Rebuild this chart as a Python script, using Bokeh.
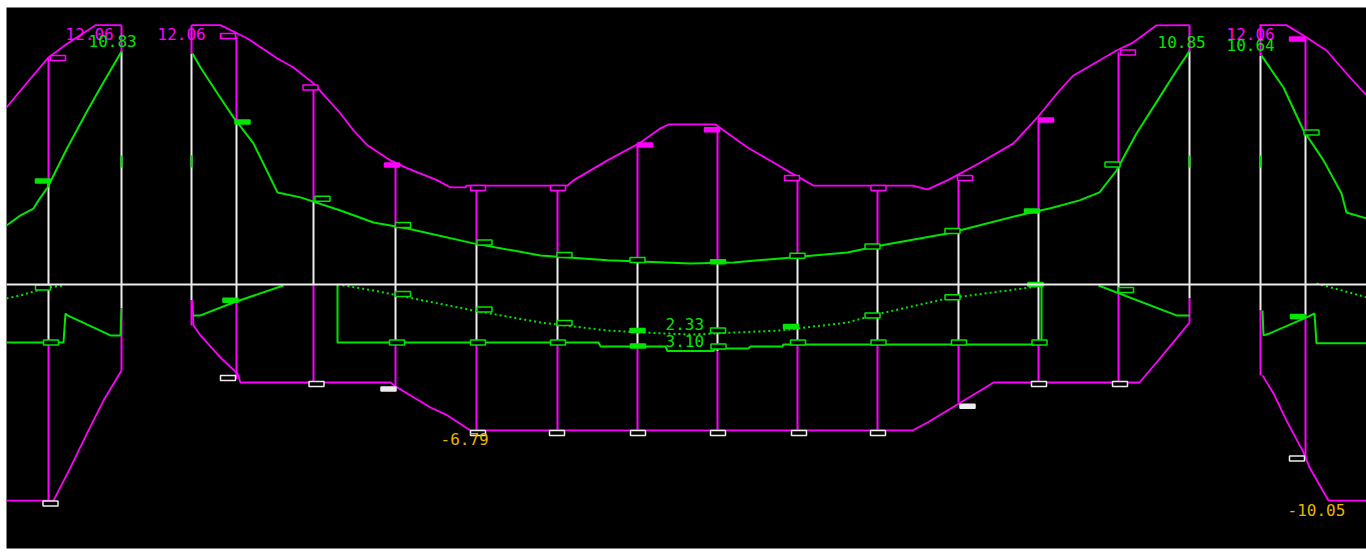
from bokeh.plotting import figure
from bokeh.models import Range1d, ColumnDataSource, Span
from bokeh.core.properties import value
from bokeh.embed import file_html
from bokeh.resources import INLINE

# Beam moment envelope: stations in m, moments in kN*m
MAGENTA = "#FF00FF"
GREEN = "#00E600"
WHITE = "#EDEDED"
GOLD = "#E8B400"

# ---- design sections -------------------------------------------------------
sec_x = [0.42, 1.15, 1.85, 2.30, 3.07, 3.89, 4.70, 5.51, 6.31, 7.11, 7.91,
         8.71, 9.52, 10.32, 11.12, 11.83, 12.54, 12.99]
sec_hog_env = [10.56, 12.06, 12.06, 11.53, 9.26, 5.58, 4.51, 4.51, 6.51, 7.21,
               4.98, 4.51, 4.98, 7.63, 10.79, 12.06, 12.06, 11.44]
sec_hog_case = [4.70, 10.83, 10.74, 7.58, 3.91, 2.74, 1.91, 1.35, 1.12, 1.02,
                1.26, 1.77, 2.47, 3.44, 5.58, 10.85, 10.64, 7.07]
sec_sag_env = [-10.05, -4.00, -1.91, -4.40, -4.56, -4.74, -6.79, -6.79, -6.79,
               -6.79, -6.79, -6.79, -5.49, -4.56, -4.56, -1.77, -4.23, -8.05]
sec_sag_case = [-2.70, -1.12, -0.74, -0.84, 0.00, -2.70, -2.70, -2.70, -2.88,
                -3.10, -2.79, -2.79, -2.79, -2.79, -0.37, -0.65, -1.21, -1.44]

# short ticks at the column faces
face_x = [1.15, 1.85, 11.83, 12.54]
face_top = 6.00
face_bot = 5.44

# ---- envelope of hogging moments (drawn upward) ---------------------------
hog_env_l_x = [0.00, 0.14, 0.42, 0.61, 0.89, 1.15]
hog_env_l_y = [8.23, 9.02, 10.56, 11.21, 12.06, 12.06]
hog_env_m_x = [1.85, 2.14, 2.41, 2.71, 2.87, 3.07, 3.34, 3.47, 3.61, 3.84, 4.01,
               4.31, 4.44, 4.59, 4.60, 5.61, 5.67, 6.01, 6.34, 6.54, 6.62, 7.09,
               7.41, 7.67, 7.87, 8.07, 9.06, 9.21, 9.41, 9.74, 10.07, 10.30,
               10.53, 10.67, 11.10, 11.27, 11.50, 11.83]
hog_env_m_y = [12.06, 12.06, 11.44, 10.51, 10.09, 9.35, 7.95, 7.16, 6.47, 5.77,
               5.40, 4.84, 4.51, 4.51, 4.60, 4.60, 4.84, 5.77, 6.60, 7.26, 7.44,
               7.44, 6.37, 5.67, 5.12, 4.60, 4.60, 4.42, 4.84, 5.67, 6.56, 7.72,
               9.02, 9.72, 10.88, 11.26, 12.05, 12.06]
hog_env_r_x = [12.53, 12.80, 12.97, 13.20, 13.40, 13.60]
hog_env_r_y = [12.06, 12.06, 11.58, 10.88, 9.81, 8.79]

# ---- envelope of sagging moments (drawn downward) -------------------------
sag_env_l_x = [0.00, 0.42, 0.47, 0.64, 0.81, 0.97, 1.09, 1.15]
sag_env_l_y = [-10.05, -10.05, -10.05, -8.51, -6.88, -5.40, -4.47, -4.00]
sag_env_m_x = [1.86, 1.87, 1.94, 2.14, 2.31, 2.34, 3.84, 3.89, 4.04, 4.24, 4.41,
               4.64, 9.06, 9.21, 9.41, 9.54, 9.74, 9.87, 11.33, 11.50, 11.70,
               11.83]
sag_env_m_y = [-0.74, -1.91, -2.37, -3.40, -4.14, -4.56, -4.56, -4.74, -5.16,
               -5.72, -6.09, -6.79, -6.79, -6.42, -5.86, -5.49, -4.93, -4.56,
               -4.56, -3.63, -2.51, -1.77]
sag_env_r_x = [12.56, 12.67, 12.80, 12.97, 13.03, 13.22, 13.60]
sag_env_r_y = [-4.23, -5.07, -6.33, -7.81, -8.51, -10.05, -10.05]

# ---- hogging moments, governing case --------------------------------------
hog_case_l_x = [0.00, 0.14, 0.27, 0.32, 0.41, 0.61, 0.81, 0.94, 1.15]
hog_case_l_y = [2.74, 3.21, 3.53, 3.91, 4.51, 6.37, 8.09, 9.16, 10.83]
hog_case_m_x = [1.86, 1.94, 2.11, 2.27, 2.47, 2.71, 2.94, 3.34, 3.67, 4.01,
                4.67, 5.34, 6.01, 6.84, 7.27, 7.74, 8.41, 8.74, 9.41, 10.24,
                10.43, 10.73, 10.93, 11.10, 11.30, 11.53, 11.70, 11.83]
hog_case_m_y = [10.74, 10.09, 8.88, 7.77, 6.56, 4.28, 4.05, 3.44, 2.88, 2.60,
                1.91, 1.35, 1.12, 0.98, 1.02, 1.21, 1.49, 1.81, 2.37, 3.35,
                3.53, 3.91, 4.28, 5.30, 7.02, 8.70, 9.95, 10.85]
hog_case_r_x = [12.55, 12.77, 12.97, 13.17, 13.35, 13.40, 13.60]
hog_case_r_y = [10.64, 9.16, 7.16, 5.77, 4.23, 3.35, 3.07]

# ---- sagging moments, governing case (solid) ------------------------------
sag_case_l_x = [0.00, 0.57, 0.59, 0.61, 1.04, 1.14, 1.15]
sag_case_l_y = [-2.70, -2.70, -1.35, -1.44, -2.37, -2.37, -1.12]
sag_case_ml_x = [1.87, 1.94, 2.27, 2.77]
sag_case_ml_y = [-1.44, -1.44, -0.84, -0.05]
sag_case_m_x = [3.31, 3.31, 5.92, 5.94, 6.59, 6.61, 7.07, 7.09, 7.42, 7.44,
                7.76, 7.77, 10.35, 10.35]
sag_case_m_y = [0.00, -2.70, -2.70, -2.88, -2.88, -3.10, -3.10, -2.98, -2.98,
                -2.88, -2.88, -2.79, -2.79, 0.00]
sag_case_mr_x = [10.92, 11.70, 11.83]
sag_case_mr_y = [-0.05, -1.44, -1.44]
sag_case_r_x = [12.56, 12.57, 12.63, 13.00, 13.08, 13.10, 13.60]
sag_case_r_y = [-1.21, -2.37, -2.28, -1.53, -1.35, -2.74, -2.74]

# ---- sagging moments, second case (dotted) --------------------------------
sag_alt_l_x = [0.00, 0.14, 0.31, 0.41, 0.57]
sag_alt_l_y = [-0.65, -0.51, -0.28, -0.14, -0.05]
sag_alt_m_x = [3.31, 3.67, 4.01, 4.67, 5.34, 6.01, 6.34, 6.84, 7.74, 8.41,
               8.74, 9.41, 10.24, 10.35]
sag_alt_m_y = [0.00, -0.28, -0.60, -1.21, -1.77, -2.14, -2.23, -2.33, -2.14,
               -1.77, -1.35, -0.65, -0.14, 0.00]
sag_alt_r_x = [13.10, 13.60]
sag_alt_r_y = [0.05, -0.60]

# ---- section markers: station, moment, solid? -----------------------------
mk_hog_env_x = [0.515, 2.215, 3.04, 3.855, 4.715, 5.515, 6.385, 7.055, 7.855,
                8.72, 9.585, 10.395, 11.215, 12.905]
mk_hog_env_y = [10.53, 11.56, 9.16, 5.56, 4.49, 4.49, 6.49, 7.19, 4.95, 4.49,
                4.95, 7.65, 10.79, 11.42]
mk_hog_env_s = [0, 0, 0, 1, 0, 0, 1, 1, 0, 0, 0, 1, 0, 1]

mk_sag_env_x = [0.44, 2.215, 3.10, 3.82, 4.715, 5.505, 6.315, 7.115, 7.925,
                8.715, 9.61, 10.325, 11.135, 12.905]
mk_sag_env_y = [-10.19, -4.35, -4.63, -4.86, -6.91, -6.91, -6.91, -6.91, -6.91,
                -6.91, -5.67, -4.63, -4.63, -8.09]
mk_sag_env_s = [0, 0, 0, 1, 0, 0, 0, 0, 0, 0, 1, 0, 0, 0]

mk_hog_case_x = [0.365, 2.36, 3.16, 3.965, 4.78, 5.58, 6.31, 7.115, 7.91, 8.66,
                 9.46, 10.255, 11.06, 13.05]
mk_hog_case_y = [4.81, 7.56, 3.98, 2.77, 1.95, 1.37, 1.14, 1.05, 1.33, 1.77,
                 2.49, 3.42, 5.58, 7.07]
mk_hog_case_s = [1, 1, 0, 0, 0, 0, 0, 1, 0, 0, 0, 1, 0, 0]

mk_sag_alt_x = [0.365, 2.24, 3.965, 4.78, 5.58, 6.31, 7.115, 7.845, 8.66, 9.46,
                10.29, 11.195, 12.915]
mk_sag_alt_y = [-0.14, -0.74, -0.44, -1.16, -1.79, -2.14, -2.14, -1.95, -1.44,
                -0.60, 0.00, -0.26, -1.49]
mk_sag_alt_s = [0, 1, 0, 0, 0, 1, 0, 1, 0, 0, 1, 0, 1]

mk_sag_case_x = [0.445, 3.905, 4.715, 5.515, 6.315, 7.12, 7.915, 8.72, 9.525,
                 10.33]
mk_sag_case_y = [-2.70, -2.70, -2.70, -2.70, -2.86, -2.88, -2.70, -2.70, -2.70,
                 -2.70]
mk_sag_case_s = [0, 0, 0, 0, 1, 0, 0, 0, 0, 0]

# ---- value labels -----------------------------------------------------------
lbl_text = ["12.06", "10.83", "12.06", "10.85", "12.06", "10.64", "2.33",
            "3.10", "-6.79", "-10.05"]
lbl_x = [0.59, 0.82, 1.51, 11.51, 12.20, 12.20, 6.59, 6.59, 4.34, 12.81]
lbl_y = [11.67, 11.30, 11.67, 11.26, 11.67, 11.12, -1.86, -2.65, -7.21, -10.51]
lbl_color = [MAGENTA, GREEN, MAGENTA, GREEN, MAGENTA, GREEN, GREEN, GREEN,
             GOLD, GOLD]

# ---------------------------------------------------------------------------
p = figure(width=1366, height=553, output_backend="svg", toolbar_location=None,
           x_range=Range1d(0, 13.60), y_range=Range1d(-12.28, 12.88),
           x_axis_location=None, y_axis_location=None,
           min_border_left=6, min_border_top=7, min_border_right=0,
           min_border_bottom=5)
p.grid.visible = False
p.outline_line_color = None
p.background_fill_color = "black"
p.border_fill_color = "white"

# beam axis
p.add_layout(Span(location=0, dimension="width", line_color=WHITE,
                  line_width=2))

# section lines: white up to the case value, magenta on to the envelope
p.segment(x0=sec_x, y0=[0] * len(sec_x), x1=sec_x, y1=sec_hog_case,
          line_color=WHITE, line_width=2)
p.segment(x0=sec_x, y0=sec_hog_case, x1=sec_x, y1=sec_hog_env,
          line_color=MAGENTA, line_width=2)
p.segment(x0=sec_x, y0=[0] * len(sec_x), x1=sec_x, y1=sec_sag_case,
          line_color=WHITE, line_width=2)
p.segment(x0=sec_x, y0=sec_sag_case, x1=sec_x, y1=sec_sag_env,
          line_color=MAGENTA, line_width=2)

# column face ticks
p.segment(x0=face_x, y0=[face_bot] * 4, x1=face_x, y1=[face_top] * 4,
          line_color=GREEN, line_width=2)

for xs, ys in [(hog_env_l_x, hog_env_l_y), (hog_env_m_x, hog_env_m_y),
               (hog_env_r_x, hog_env_r_y), (sag_env_l_x, sag_env_l_y),
               (sag_env_m_x, sag_env_m_y), (sag_env_r_x, sag_env_r_y)]:
    p.line(xs, ys, line_color=MAGENTA, line_width=1.8)

for xs, ys in [(hog_case_l_x, hog_case_l_y), (hog_case_m_x, hog_case_m_y),
               (hog_case_r_x, hog_case_r_y), (sag_case_l_x, sag_case_l_y),
               (sag_case_ml_x, sag_case_ml_y), (sag_case_m_x, sag_case_m_y),
               (sag_case_mr_x, sag_case_mr_y), (sag_case_r_x, sag_case_r_y)]:
    p.line(xs, ys, line_color=GREEN, line_width=2)

for xs, ys in [(sag_alt_l_x, sag_alt_l_y), (sag_alt_m_x, sag_alt_m_y),
               (sag_alt_r_x, sag_alt_r_y)]:
    p.line(xs, ys, line_color=GREEN, line_width=2, line_dash="2 3")


def markers(xs, ys, solid, color):
    src = ColumnDataSource(dict(
        x=xs, y=ys,
        fill=[color if s else "black" for s in solid],
        h=[4 if s else 5 for s in solid],
    ))
    p.rect(x="x", y="y", width=15, height="h", width_units="screen",
           height_units="screen", source=src, fill_color="fill",
           line_color=color, line_width=1.5)


markers(mk_hog_env_x, mk_hog_env_y, mk_hog_env_s, MAGENTA)
markers(mk_sag_env_x, mk_sag_env_y, mk_sag_env_s, WHITE)
markers(mk_hog_case_x, mk_hog_case_y, mk_hog_case_s, GREEN)
markers(mk_sag_alt_x, mk_sag_alt_y, mk_sag_alt_s, GREEN)
markers(mk_sag_case_x, mk_sag_case_y, mk_sag_case_s, GREEN)

labels = ColumnDataSource(dict(x=lbl_x, y=lbl_y, text=lbl_text,
                               color=lbl_color))
p.text(x="x", y="y", text="text", source=labels, text_color="color",
       text_font=value("DejaVu Sans Mono"), text_font_size="16px",
       text_align="left", text_baseline="middle")

open("out.html", "w").write(file_html(p, INLINE))
